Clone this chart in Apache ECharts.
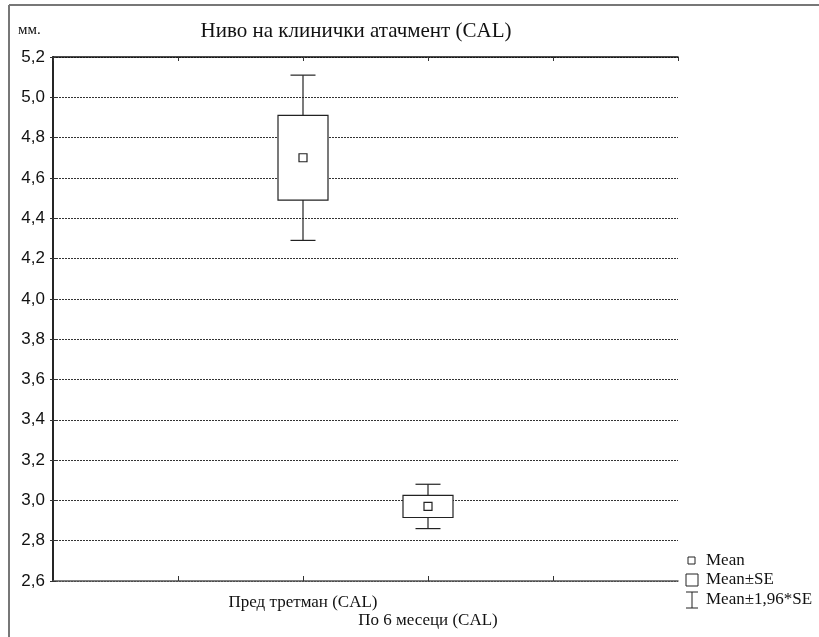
<!DOCTYPE html>
<html>
<head>
<meta charset="utf-8">
<script src="https://cdn.jsdelivr.net/npm/echarts@6/dist/echarts.min.js"></script>
<style>
  html, body { margin: 0; padding: 0; background: #fff; }
  #chart { width: 819px; height: 637px; }
</style>
</head>
<body>
<div id="chart"></div>
<script>
// Groups and their positions along the horizontal axis
const categories = ['Пред третман (CAL)', 'По 6 месеци (CAL)'];
const positions = [2, 3];

// Clinical attachment level, mm
const means     = [4.70, 2.97];
const seLow     = [4.49, 2.915];
const seHigh    = [4.91, 3.025];
const ciLow     = [4.29, 2.86];
const ciHigh    = [5.11, 3.08];

// Y axis range and step
const yMin = 2.6, yMax = 5.2, yStep = 0.2;

const boxData = categories.map((c, i) =>
  [positions[i], means[i], seLow[i], seHigh[i], ciLow[i], ciHigh[i]]);

const serif = '"Liberation Serif", "DejaVu Serif", serif';
const sans = '"Liberation Sans", Arial, sans-serif';

function renderBox(params, api) {
  const x = api.value(0);
  const pMean = api.coord([x, api.value(1)]);
  const pLo = api.coord([x, api.value(2)]);
  const pHi = api.coord([x, api.value(3)]);
  const pWLo = api.coord([x, api.value(4)]);
  const pWHi = api.coord([x, api.value(5)]);
  const cx = pMean[0];
  const boxW = 50, capW = 25, m = 8;
  const line = { stroke: '#222', lineWidth: 1.2 };
  return {
    type: 'group',
    children: [
      { type: 'line', shape: { x1: cx, y1: pWHi[1], x2: cx, y2: pHi[1] }, style: line },
      { type: 'line', shape: { x1: cx, y1: pLo[1], x2: cx, y2: pWLo[1] }, style: line },
      { type: 'line', shape: { x1: cx - capW / 2, y1: pWHi[1], x2: cx + capW / 2, y2: pWHi[1] }, style: line },
      { type: 'line', shape: { x1: cx - capW / 2, y1: pWLo[1], x2: cx + capW / 2, y2: pWLo[1] }, style: line },
      { type: 'rect', shape: { x: cx - boxW / 2, y: pHi[1], width: boxW, height: pLo[1] - pHi[1] },
        style: { fill: '#fff', stroke: '#222', lineWidth: 1.2 } },
      { type: 'rect', shape: { x: cx - m / 2, y: pMean[1] - m / 2, width: m, height: m },
        style: { fill: '#fff', stroke: '#222', lineWidth: 1.2 } }
    ]
  };
}

const chart = echarts.init(document.getElementById('chart'), null, { renderer: 'canvas' });

const legendX = 686, legendTextX = 706;

chart.setOption({
  animation: false,
  backgroundColor: '#fff',
  title: {
    text: 'Ниво на клинички атачмент (CAL)',
    left: 351, top: 16, textAlign: 'center',
    textStyle: { fontFamily: serif, fontSize: 21, fontWeight: 'normal', color: '#111' }
  },
  grid: { left: 53, right: 141, top: 57, bottom: 56, show: false, containLabel: false, outerBoundsMode: 'none' },
  xAxis: [{
    type: 'value', min: 0, max: 5, interval: 1, position: 'bottom',
    axisLine: { show: true, lineStyle: { color: '#555', width: 1.5 } },
    axisTick: { show: true, inside: true, length: 5, lineStyle: { color: '#333' } },
    splitLine: { show: false },
    axisLabel: {
      show: true, margin: 13, color: '#111', fontFamily: serif, fontSize: 17,
      showMinLabel: false, showMaxLabel: false,
      formatter: v => {
        const i = positions.indexOf(v);
        if (i < 0) return '';
        return i === 0 ? categories[i] : '{b|' + categories[i] + '}';
      },
      rich: { b: { fontFamily: serif, fontSize: 17, color: '#111', padding: [18, 0, 0, 0] } }
    }
  }, {
    type: 'value', min: 0, max: 5, interval: 1, position: 'top',
    axisLine: { show: true, lineStyle: { color: '#111', width: 1.5 } },
    axisTick: { show: true, inside: true, length: 4, lineStyle: { color: '#333' } },
    axisLabel: { show: false }, splitLine: { show: false }
  }],
  yAxis: [{
    type: 'value', min: yMin, max: yMax, interval: yStep, position: 'left',
    axisLine: { show: true, lineStyle: { color: '#666', width: 2 } },
    axisTick: { show: true, inside: true, length: 3, lineStyle: { color: '#333' } },
    axisLabel: {
      margin: 8, color: '#111', fontFamily: sans, fontSize: 17,
      formatter: v => v.toFixed(1).replace('.', ',')
    },
    splitLine: { show: true, lineStyle: { type: [2, 1], color: '#333', width: 1 } }
  }, {
    type: 'value', min: yMin, max: yMax, interval: yStep, position: 'right',
    axisLine: { show: true, lineStyle: { color: '#111', width: 1.5 } },
    axisTick: { show: true, inside: true, length: 3, lineStyle: { color: '#333' } },
    axisLabel: { show: false }, splitLine: { show: false }
  }],
  series: [{
    type: 'custom',
    renderItem: renderBox,
    data: boxData,
    encode: { x: 0, y: [1, 2, 3, 4, 5] },
    z: 10
  }],
  graphic: [
    // outer frame
    { type: 'line', shape: { x1: 9, y1: 5, x2: 819, y2: 5 }, style: { stroke: '#777', lineWidth: 2 } },
    { type: 'line', shape: { x1: 9, y1: 5, x2: 9, y2: 637 }, style: { stroke: '#777', lineWidth: 2 } },
    // unit label
    { type: 'text', x: 18, y: 30, style: { text: 'мм.', font: '15px ' + serif, fill: '#111', verticalAlign: 'middle' } },
    // legend
    { type: 'rect', shape: { x: 688, y: 557, width: 7, height: 7 }, style: { fill: '#fff', stroke: '#222', lineWidth: 1 } },
    { type: 'text', x: legendTextX, y: 561, style: { text: 'Mean', font: '17px ' + serif, fill: '#111', verticalAlign: 'middle' } },
    { type: 'rect', shape: { x: 686, y: 574, width: 12, height: 12 }, style: { fill: '#fff', stroke: '#222', lineWidth: 1 } },
    { type: 'text', x: legendTextX, y: 580, style: { text: 'Mean±SE', font: '17px ' + serif, fill: '#111', verticalAlign: 'middle' } },
    { type: 'line', shape: { x1: legendX, y1: 592, x2: legendX + 12, y2: 592 }, style: { stroke: '#222', lineWidth: 1 } },
    { type: 'line', shape: { x1: legendX + 6, y1: 592, x2: legendX + 6, y2: 608 }, style: { stroke: '#222', lineWidth: 1 } },
    { type: 'line', shape: { x1: legendX, y1: 608, x2: legendX + 12, y2: 608 }, style: { stroke: '#222', lineWidth: 1 } },
    { type: 'text', x: legendTextX, y: 600, style: { text: 'Mean±1,96*SE', font: '17px ' + serif, fill: '#111', verticalAlign: 'middle' } }
  ]
});
</script>
</body>
</html>
